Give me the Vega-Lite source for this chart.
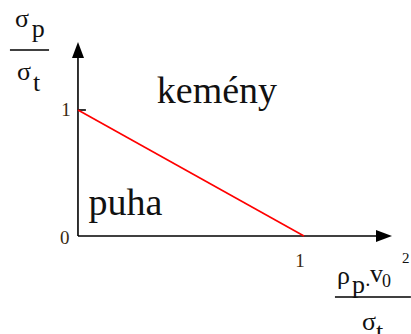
{
  "$schema": "https://vega.github.io/schema/vega-lite/v6.json",
  "width": 411,
  "height": 334,
  "padding": 0,
  "autosize": {"type": "none"},
  "background": "white",
  "config": {"view": {"stroke": null}},
  "encoding": {
    "x": {"field": "x", "type": "quantitative", "scale": {"domain": [-0.345, 1.4735], "nice": false, "zero": false}, "axis": null},
    "y": {"field": "y", "type": "quantitative", "scale": {"domain": [-0.778, 1.873], "nice": false, "zero": false}, "axis": null}
  },
  "layer": [
    {
      "description": "axes, the tick at 1 and the two fraction bars",
      "data": {"values": [
        {"part": "x axis", "x": 0, "x2": 1.354, "y": 0, "y2": 0},
        {"part": "y axis", "x": 0, "x2": 0, "y": 0, "y2": 1.476},
        {"part": "tick", "x": 0, "x2": 0.035, "y": 1, "y2": 1},
        {"part": "y title bar", "x": -0.301, "x2": -0.128, "y": 1.476, "y2": 1.476},
        {"part": "x title bar", "x": 1.137, "x2": 1.473, "y": -0.484, "y2": -0.484}
      ]},
      "mark": {"type": "rule", "color": "#000000", "strokeWidth": 1.6},
      "encoding": {"x2": {"field": "x2"}, "y2": {"field": "y2"}}
    },
    {
      "description": "boundary between hard and soft",
      "data": {"values": [{"x": 0, "y": 1}, {"x": 1, "y": 0}]},
      "mark": {"type": "line", "color": "#ff0000", "strokeWidth": 1.6}
    },
    {
      "data": {"values": [{"x": 0, "y": 1.476}]},
      "mark": {"type": "point", "shape": "M0,-1L0.75,1L-0.75,1Z", "size": 256, "filled": true, "color": "#000000", "opacity": 1, "strokeWidth": 0}
    },
    {
      "data": {"values": [{"x": 1.354, "y": 0}]},
      "mark": {"type": "point", "shape": "M1,0L-1,-0.75L-1,0.75Z", "size": 256, "filled": true, "color": "#000000", "opacity": 1, "strokeWidth": 0}
    },
    {
      "description": "region names",
      "data": {"values": [
        {"label": "kemény", "x": 0.615, "y": 1.056},
        {"label": "puha", "x": 0.21, "y": 0.167}
      ]},
      "mark": {"type": "text", "font": "Liberation Serif", "fontSize": 38, "align": "center", "baseline": "alphabetic", "color": "#111111"},
      "encoding": {"text": {"field": "label"}}
    },
    {
      "description": "tick labels",
      "data": {"values": [
        {"label": "1", "x": -0.053, "y": 1},
        {"label": "0", "x": -0.058, "y": -0.016},
        {"label": "1", "x": 0.982, "y": -0.198}
      ]},
      "mark": {"type": "text", "font": "Liberation Serif", "fontSize": 19, "align": "center", "baseline": "middle", "color": "#3a2a10"},
      "encoding": {"text": {"field": "label"}}
    },
    {
      "description": "axis title symbols",
      "data": {"values": [
        {"label": "σ", "x": -0.279, "y": 1.659},
        {"label": "p", "x": -0.204, "y": 1.579},
        {"label": "σ", "x": -0.27, "y": 1.238},
        {"label": "t", "x": -0.199, "y": 1.151},
        {"label": "ρ", "x": 1.146, "y": -0.381},
        {"label": "p", "x": 1.212, "y": -0.452},
        {"label": "v", "x": 1.292, "y": -0.365},
        {"label": "σ", "x": 1.257, "y": -0.746},
        {"label": "t", "x": 1.319, "y": -0.825}
      ]},
      "mark": {"type": "text", "font": "Liberation Serif", "fontSize": 26, "align": "left", "baseline": "alphabetic", "color": "#111111"},
      "encoding": {"text": {"field": "label"}}
    },
    {
      "description": "product dot between the two factors",
      "data": {"values": [{"label": "·", "x": 1.283, "y": -0.4}]},
      "mark": {"type": "text", "font": "Liberation Serif", "fontSize": 20, "align": "center", "baseline": "middle", "color": "#111111"},
      "encoding": {"text": {"field": "label"}}
    },
    {
      "data": {"values": [{"label": "0", "x": 1.345, "y": -0.405}]},
      "mark": {"type": "text", "font": "Liberation Serif", "fontSize": 18, "align": "left", "baseline": "alphabetic", "color": "#111111"},
      "encoding": {"text": {"field": "label"}}
    },
    {
      "data": {"values": [{"label": "2", "x": 1.434, "y": -0.214}]},
      "mark": {"type": "text", "font": "Liberation Serif", "fontSize": 15, "align": "left", "baseline": "alphabetic", "color": "#111111"},
      "encoding": {"text": {"field": "label"}}
    }
  ]
}
